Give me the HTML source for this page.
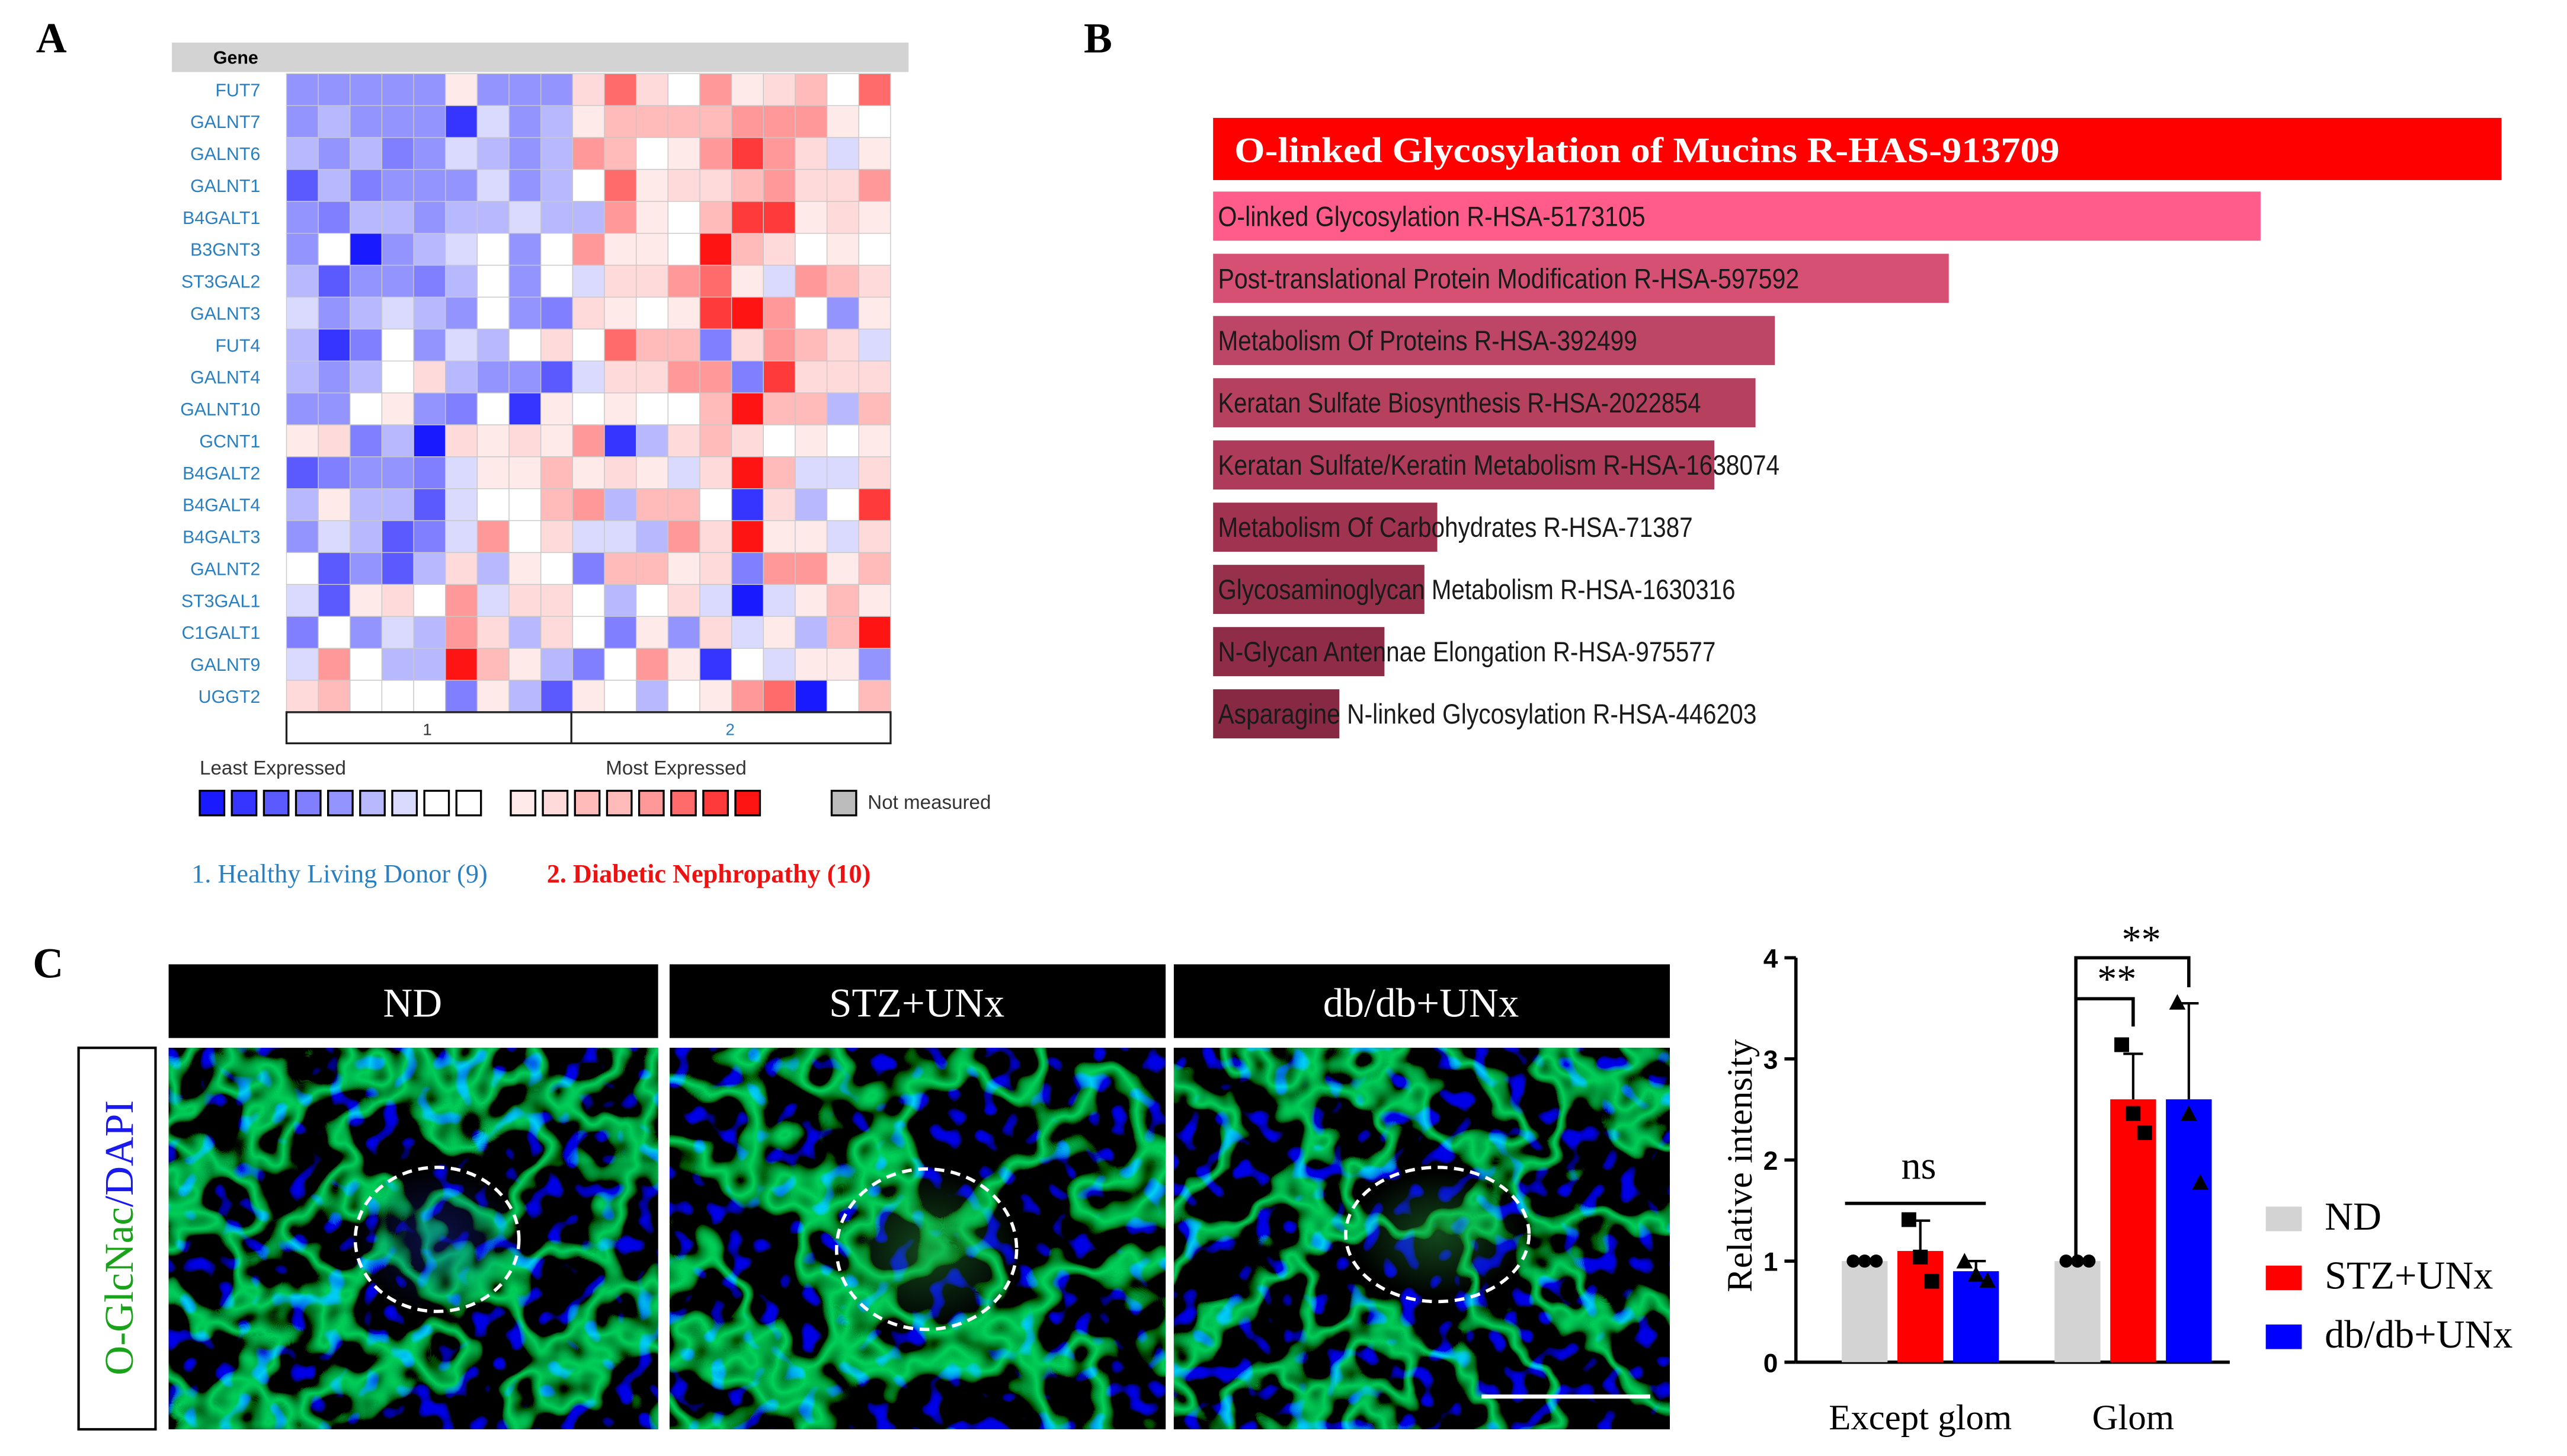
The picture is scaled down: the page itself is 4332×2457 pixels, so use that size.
<!DOCTYPE html>
<html><head><meta charset="utf-8"><style>
html,body{margin:0;padding:0;background:#fff;}
svg{display:block;}
</style></head><body>
<svg id="root" width="4332" height="2457" viewBox="0 0 1568 889.3" preserveAspectRatio="none" xmlns="http://www.w3.org/2000/svg">
<defs>
<filter id="micro" x="0" y="0" width="100%" height="100%" filterUnits="objectBoundingBox">
 <feTurbulence type="fractalNoise" baseFrequency="0.019" numOctaves="3" seed="4" result="n1"/>
 <feColorMatrix in="n1" type="matrix" values="0 0 0 0 0  10 0 0 0 -5  0 0 0 0 0  0 0 0 0 1" result="a"/>
 <feColorMatrix in="n1" type="matrix" values="0 0 0 0 0  -10 0 0 0 5  0 0 0 0 0  0 0 0 0 1" result="b"/>
 <feComposite in="a" in2="b" operator="arithmetic" k2="1" k3="1" result="s"/>
 <feColorMatrix in="s" type="matrix" values="0 0 0 0 0  0 -0.8 0 0 0.62  0 -0.15 0 0 0.1  0 0 0 0 1" result="g"/>
 <feTurbulence type="fractalNoise" baseFrequency="0.09" numOctaves="1" seed="9" result="n2"/>
 <feColorMatrix in="n2" type="matrix" values="0 0 0 0 0  0 0 0 0 0  8 0 0 0 -4.6  0 0 0 0 1" result="bl"/>
 <feComposite in="g" in2="bl" operator="arithmetic" k2="1" k3="0.8" result="c"/>
 <feComposite in="c" in2="SourceGraphic" operator="in"/>
</filter>
<filter id="micro2" x="0" y="0" width="100%" height="100%" filterUnits="objectBoundingBox">
 <feTurbulence type="fractalNoise" baseFrequency="0.018" numOctaves="3" seed="11" result="n1"/>
 <feColorMatrix in="n1" type="matrix" values="0 0 0 0 0  9 0 0 0 -4.5  0 0 0 0 0  0 0 0 0 1" result="a"/>
 <feColorMatrix in="n1" type="matrix" values="0 0 0 0 0  -9 0 0 0 4.5  0 0 0 0 0  0 0 0 0 1" result="b"/>
 <feComposite in="a" in2="b" operator="arithmetic" k2="1" k3="1" result="s"/>
 <feColorMatrix in="s" type="matrix" values="0 0 0 0 0  0 -0.8 0 0 0.64  0 -0.15 0 0 0.1  0 0 0 0 1" result="g"/>
 <feTurbulence type="fractalNoise" baseFrequency="0.09" numOctaves="1" seed="21" result="n2"/>
 <feColorMatrix in="n2" type="matrix" values="0 0 0 0 0  0 0 0 0 0  8 0 0 0 -4.6  0 0 0 0 1" result="bl"/>
 <feComposite in="g" in2="bl" operator="arithmetic" k2="1" k3="0.8" result="c"/>
 <feComposite in="c" in2="SourceGraphic" operator="in"/>
</filter>
<filter id="micro3" x="0" y="0" width="100%" height="100%" filterUnits="objectBoundingBox">
 <feTurbulence type="fractalNoise" baseFrequency="0.02" numOctaves="3" seed="31" result="n1"/>
 <feColorMatrix in="n1" type="matrix" values="0 0 0 0 0  10 0 0 0 -5  0 0 0 0 0  0 0 0 0 1" result="a"/>
 <feColorMatrix in="n1" type="matrix" values="0 0 0 0 0  -10 0 0 0 5  0 0 0 0 0  0 0 0 0 1" result="b"/>
 <feComposite in="a" in2="b" operator="arithmetic" k2="1" k3="1" result="s"/>
 <feColorMatrix in="s" type="matrix" values="0 0 0 0 0  0 -0.8 0 0 0.62  0 -0.15 0 0 0.1  0 0 0 0 1" result="g"/>
 <feTurbulence type="fractalNoise" baseFrequency="0.09" numOctaves="1" seed="41" result="n2"/>
 <feColorMatrix in="n2" type="matrix" values="0 0 0 0 0  0 0 0 0 0  8 0 0 0 -4.6  0 0 0 0 1" result="bl"/>
 <feComposite in="g" in2="bl" operator="arithmetic" k2="1" k3="0.8" result="c"/>
 <feComposite in="c" in2="SourceGraphic" operator="in"/>
</filter>
<radialGradient id="glomG"><stop offset="0" stop-color="#2aa040" stop-opacity="0.45"/><stop offset="1" stop-color="#2aa040" stop-opacity="0"/></radialGradient>
<radialGradient id="glomB"><stop offset="0" stop-color="#2030d0" stop-opacity="0.35"/><stop offset="1" stop-color="#2030d0" stop-opacity="0"/></radialGradient>
</defs>

<g font-family="'Liberation Serif',serif" font-weight="bold" font-size="26" fill="#000">
<text x="22" y="32">A</text>
<text x="662" y="32">B</text>
<text x="20" y="597">C</text>
</g>

<!-- Panel A -->
<g id="heat">
<rect x="105" y="26" width="450" height="18" fill="#d3d3d3"/>
<text x="144" y="39" font-family="'Liberation Sans',sans-serif" font-size="11" font-weight="bold" text-anchor="middle">Gene</text>
</g>
<g>
<rect x="175" y="435" width="369" height="19" fill="#fff" stroke="#222" stroke-width="1.2"/>
<line x1="349" y1="435" x2="349" y2="454" stroke="#222" stroke-width="1.2"/>
<text x="261" y="449" font-family="'Liberation Sans',sans-serif" font-size="10" text-anchor="middle" fill="#333">1</text>
<text x="446" y="449" font-family="'Liberation Sans',sans-serif" font-size="10" text-anchor="middle" fill="#2a7fc0">2</text>
</g>
<g id="legendA" font-family="'Liberation Sans',sans-serif" font-size="12" fill="#333">
<text x="122" y="473">Least Expressed</text>
<text x="370" y="473">Most Expressed</text>
<rect x="508" y="483" width="15" height="15" fill="#bcbcbc" stroke="#000" stroke-width="1.2"/>
<text x="530" y="494">Not measured</text>
</g>
<g font-family="'Liberation Serif',serif" font-size="16">
<text x="117" y="539" fill="#2a7fc0">1. Healthy Living Donor (9)</text>
<text x="334" y="539" fill="#ee1111" font-weight="bold">2. Diabetic Nephropathy (10)</text>
</g>

<!-- Panel B -->
<g id="pathways"></g>

<!-- Panel C images -->
<g>
<rect x="103" y="589" width="299" height="45" fill="#000"/>
<rect x="409" y="589" width="303" height="45" fill="#000"/>
<rect x="717" y="589" width="303" height="45" fill="#000"/>
<g font-family="'Liberation Serif',serif" font-size="25" fill="#fff" text-anchor="middle">
<text x="252" y="621">ND</text>
<text x="560" y="621">STZ+UNx</text>
<text x="868" y="621">db/db+UNx</text>
</g>
<rect x="103" y="640" width="299" height="233" fill="#000"/>
<rect x="409" y="640" width="303" height="233" fill="#000"/>
<rect x="717" y="640" width="303" height="233" fill="#000"/>
<rect x="103" y="640" width="299" height="233" fill="#000" filter="url(#micro)"/>
<rect x="409" y="640" width="303" height="233" fill="#000" filter="url(#micro2)"/>
<rect x="717" y="640" width="303" height="233" fill="#000" filter="url(#micro3)"/>
<ellipse cx="267" cy="757" rx="50" ry="44" fill="url(#glomB)"/>
<ellipse cx="567" cy="763" rx="55" ry="48" fill="url(#glomG)"/>
<ellipse cx="878" cy="754" rx="52" ry="38" fill="url(#glomG)"/>
<g fill="none" stroke="#fff" stroke-width="2" stroke-dasharray="6,4">
<ellipse cx="267" cy="757" rx="50" ry="44"/>
<ellipse cx="566" cy="763" rx="55" ry="49"/>
<ellipse cx="878" cy="754" rx="56" ry="41"/>
</g>
<line x1="905" y1="853" x2="1008" y2="853" stroke="#fff" stroke-width="2.5"/>
<rect x="48" y="640" width="47" height="233" fill="#fff" stroke="#000" stroke-width="1.5"/>
<text transform="translate(81,756) rotate(-90)" text-anchor="middle" font-family="'Liberation Serif',serif" font-size="25"><tspan fill="#1aa31a">O-GlcNac</tspan><tspan fill="#1a1aee">/DAPI</tspan></text>
</g>

<!-- Panel C bar chart -->
<g id="barchart"></g>
</svg>

<script>
var NS="http://www.w3.org/2000/svg";
function mk(tag,attrs,parent){var e=document.createElementNS(NS,tag);for(var k in attrs)e.setAttribute(k,attrs[k]);parent.appendChild(e);return e;}

// ---------- Heatmap data ----------
var genes=["FUT7","GALNT7","GALNT6","GALNT1","B4GALT1","B3GNT3","ST3GAL2","GALNT3","FUT4","GALNT4","GALNT10","GCNT1","B4GALT2","B4GALT4","B4GALT3","GALNT2","ST3GAL1","C1GALT1","GALNT9","UGGT2"];
var heatCodes=[
"eeeeeheee"+"iliwkhijwl",
"efeeebgef"+"hjjjjkkkhw",
"fefdegfef"+"kjwhkmkigh",
"cfdeeegef"+"wlhiijkiik",
"edffeffgf"+"fkhwjmmhih",
"ewaefgwew"+"khhwnjiwhw",
"fceedfwew"+"giiklhgkji",
"gefgfewed"+"ihwhmnkweh",
"fbdwegfwi"+"wljjdikjig",
"fefwifeec"+"giikkdmiii",
"eewhedwbh"+"whwwjnjjfj",
"hidfaihih"+"kbfijiwhwh",
"cdeedghhj"+"hihginjggi",
"fhffcgwwj"+"kfjjwbifwm",
"egfcdgkwi"+"ggfkinhhgi",
"wcecfifhw"+"djjhidkkhj",
"gchiwkgii"+"wfwigaghjh",
"dwegfkifi"+"wdheighfjn",
"gkwffnjhf"+"dwkhbwghhe",
"ijwwwdhfc"+"hwfwhklawj"
];
var levelColors={a:"#1a1aff",b:"#3535ff",c:"#5a5aff",d:"#7f7fff",e:"#9494ff",f:"#b8b8ff",g:"#dadaff",w:"#ffffff",h:"#ffeaea",i:"#ffdada",j:"#ffbaba",k:"#ff9898",l:"#ff6a6a",m:"#ff3a3a",n:"#ff1414"};

var heat=document.getElementById('heat');
var hx0=175,hx1=544,hy0=45,hy1=435;
var nc=heatCodes[0].length,nr=genes.length;
var cw=(hx1-hx0)/nc,rh=(hy1-hy0)/nr;
for(var r=0;r<nr;r++){
  var t=mk('text',{x:159,y:hy0+rh*(r+0.5)+4,'text-anchor':'end','font-family':"'Liberation Sans',sans-serif",'font-size':11,fill:'#2a7fc0'},heat);
  t.textContent=genes[r];
  
  
  for(var c=0;c<nc;c++){
    var cell=mk('rect',{x:hx0+c*cw,y:hy0+r*rh,width:cw,height:rh,fill:levelColors[heatCodes[r][c]],stroke:'#c8c8c8','stroke-width':0.5},heat);
    
    
  }
}
var legA=document.getElementById('legendA');
var legBlue=["a","b","c","d","e","f","g","w","w"],legRed=["h","i","j","j","k","l","m","n"];
legBlue.forEach(function(k,i){var s=mk('rect',{x:122+i*19.6,y:483,width:15,height:15,fill:levelColors[k],stroke:'#000','stroke-width':1.2},legA);
 
 });
legRed.forEach(function(k,i){var s=mk('rect',{x:312+i*19.6,y:483,width:15,height:15,fill:levelColors[k],stroke:'#000','stroke-width':1.2},legA);
 
 });

// ---------- Panel B pathways ----------
var pathNames=["O-linked Glycosylation of Mucins R-HAS-913709","O-linked Glycosylation R-HSA-5173105","Post-translational Protein Modification R-HSA-597592","Metabolism Of Proteins R-HSA-392499","Keratan Sulfate Biosynthesis R-HSA-2022854","Keratan Sulfate/Keratin Metabolism R-HSA-1638074","Metabolism Of Carbohydrates R-HSA-71387","Glycosaminoglycan Metabolism R-HSA-1630316","N-Glycan Antennae Elongation R-HSA-975577","Asparagine N-linked Glycosylation R-HSA-446203"];
var pathScores=[100,81.3,57.1,43.6,42.1,38.9,17.4,16.4,13.3,9.8];
var pathColors=["#ff0000","#ff5c8a","#d65073","#bd4666","#b5415f","#ad3b59","#9f3350","#97304b","#8f2c47","#872942"];
var pathTextEnds=[1258,1005,1099,1000,1039,1087,1034,1060,1048,1073];
var pB=document.getElementById('pathways');
var bx0=741,bx1=1528;
function bxScale(v){return bx0+(bx1-bx0)*v/100;}
pathNames.forEach(function(n,i){
  var big=i===0;
  var y=big?72:117+(i-1)*38;
  var h=big?38:30;
  var b=mk('rect',{x:bx0,y:y,width:bxScale(pathScores[i])-bx0,height:h,fill:pathColors[i]},pB);
  
  
  var t;
  if(big){t=mk('text',{x:754,y:y+27,'font-family':"'Liberation Serif',serif",'font-weight':'bold','font-size':22,fill:'#fff',textLength:pathTextEnds[i]-754,lengthAdjust:'spacingAndGlyphs'},pB);}
  else{t=mk('text',{x:744,y:y+21,'font-family':"'Liberation Sans',sans-serif",'font-size':17,fill:'#1a1a1a',textLength:pathTextEnds[i]-744,lengthAdjust:'spacingAndGlyphs'},pB);}
  t.textContent=n;
  
  
});

// ---------- Panel C bar chart ----------
var groupLabels=["Except glom","Glom"];
var seriesNames=["ND","STZ+UNx","db/db+UNx"];
var seriesColors=["#d3d3d3","#ff0000","#0000ff"];
var meanND=[1.0,1.0];
var meanSTZ=[1.1,2.6];
var meanDB=[0.9,2.6];
var sdND=[0,0];
var sdSTZ=[0.3,0.45];
var sdDB=[0.1,0.95];
var ptsND=[[1,1,1],[1,1,1]];
var ptsSTZ=[[1.41,1.04,0.8],[3.14,2.46,2.27]];
var ptsDB=[[1.0,0.87,0.81],[3.56,2.46,1.78]];
var yTicks=[0,1,2,3,4];
var means=[meanND,meanSTZ,meanDB],sds=[sdND,sdSTZ,sdDB],pts=[ptsND,ptsSTZ,ptsDB];
var bc=document.getElementById('barchart');
var y0=832,y4=585;
function ys(v){return y0-(y0-y4)*v/4;}
var groupStart=[1125,1255],barW=28,barGap=34;
function xs(g,s){return groupStart[g]+s*barGap;}
var axX=1097;
var ax=mk('line',{x1:axX,y1:ys(4),x2:axX,y2:y0,stroke:'#000','stroke-width':2},bc);


var xa=mk('line',{x1:axX,y1:y0,x2:1362,y2:y0,stroke:'#000','stroke-width':2},bc);


yTicks.forEach(function(v){
  mk('line',{x1:axX-7,y1:ys(v),x2:axX,y2:ys(v),stroke:'#000','stroke-width':2},bc);
  var t=mk('text',{x:axX-11,y:ys(v)+6,'text-anchor':'end','font-family':"'Liberation Sans',sans-serif",'font-weight':'bold','font-size':16},bc);
  t.textContent=v;
  
  
});
var yt=mk('text',{transform:'translate(1070,712) rotate(-90)','text-anchor':'middle','font-family':"'Liberation Serif',serif",'font-size':22},bc);
yt.textContent="Relative intensity";


groupLabels.forEach(function(g,gi){
  var t=mk('text',{x:xs(gi,1)+barW/2,y:873,'text-anchor':'middle','font-family':"'Liberation Serif',serif",'font-size':22},bc);
  t.textContent=g;
  
  
  for(var s=0;s<3;s++){
    var x=xs(gi,s),m=means[s][gi];
    var b=mk('rect',{x:x,y:ys(m),width:barW,height:y0-ys(m),fill:seriesColors[s]},bc);
    
    
    if(sds[s][gi]>0){
      var cx=x+barW/2;
      mk('line',{x1:cx,y1:ys(m),x2:cx,y2:ys(m+sds[s][gi]),stroke:'#000','stroke-width':1.5},bc);
      mk('line',{x1:cx-6,y1:ys(m+sds[s][gi]),x2:cx+6,y2:ys(m+sds[s][gi]),stroke:'#000','stroke-width':1.5},bc);
    }
    pts[s][gi].forEach(function(v,k){
      var px=x+barW/2+(k-1)*7;
      var p;
      if(s===0){p=mk('circle',{cx:px,cy:ys(v),r:4,fill:'#000'},bc);}
      else if(s===1){p=mk('rect',{x:px-4.5,y:ys(v)-4.5,width:9,height:9,fill:'#000'},bc);}
      else{var yy=ys(v);p=mk('polygon',{points:(px-5)+','+(yy+4.5)+' '+(px+5)+','+(yy+4.5)+' '+px+','+(yy-5)},bc);}
      
      
    });
  }
});
function sig(d,txt,x,y){var p=mk('path',{d:d,fill:'none',stroke:'#000','stroke-width':2},bc);
 
 
 var t=mk('text',{x:x,y:y,'text-anchor':'middle','font-family':"'Liberation Serif',serif",'font-size':24},bc);t.textContent=txt;
 
 }
sig('M1127 735 H1213','ns',1172,720);
sig('M1268 770 V610 H1303 V627','**',1293,606);
sig('M1268 610 V585 H1337 V603','**',1308,582);
seriesNames.forEach(function(n,i){
  var s=mk('rect',{x:1384,y:737+i*36,width:22,height:15,fill:seriesColors[i]},bc);
  
  
  var t=mk('text',{x:1420,y:751+i*36,'font-family':"'Liberation Serif',serif",'font-size':24},bc);
  t.textContent=n;
  
  
});
</script>
</body></html>
